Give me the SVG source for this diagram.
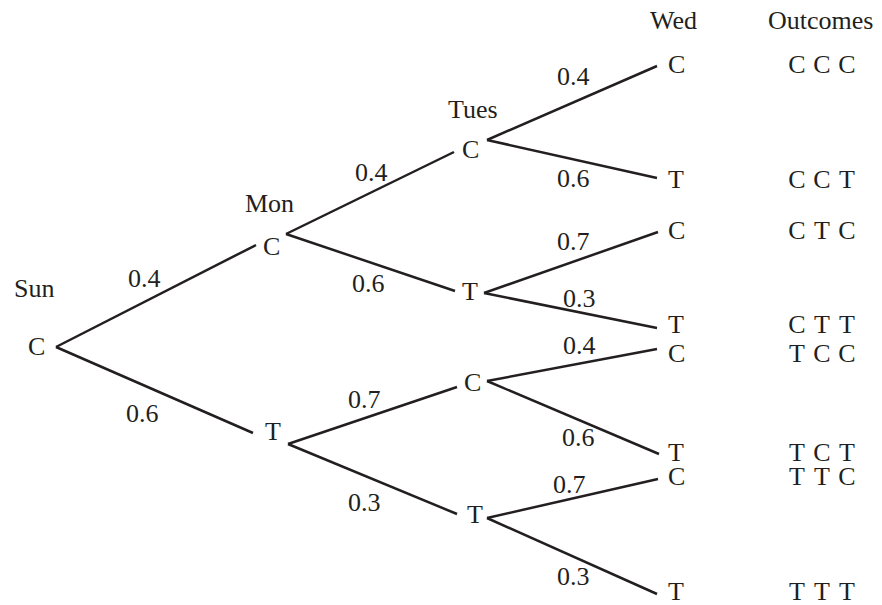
<svg xmlns="http://www.w3.org/2000/svg" width="882" height="605" viewBox="0 0 882 605">
<style>
text{font-family:"Times New Roman","Liberation Serif",Times,serif;font-size:26px;fill:#231f20}
.o{text-anchor:middle}
line{stroke:#231f20;stroke-width:2.5;stroke-linecap:butt}
</style>
<rect width="882" height="605" fill="#fff"/>
<g id="headers">
<text x="14" y="297">Sun</text>
<text x="245" y="212">Mon</text>
<text x="448" y="118">Tues</text>
<text x="650" y="29">Wed</text>
<text x="768" y="29">Outcomes</text>
</g>
<g id="connectors">
<line x1="56" y1="347" x2="256" y2="245"/>
<line x1="56" y1="347" x2="253" y2="433"/>
<line x1="286" y1="234" x2="454" y2="152"/>
<line x1="286" y1="234" x2="455" y2="291"/>
<line x1="288" y1="444" x2="457" y2="387"/>
<line x1="288" y1="444" x2="457" y2="514"/>
<line x1="487" y1="140" x2="657" y2="66"/>
<line x1="487" y1="140" x2="657" y2="178"/>
<line x1="484" y1="293" x2="658" y2="232"/>
<line x1="484" y1="293" x2="657" y2="328"/>
<line x1="487" y1="381" x2="657" y2="349"/>
<line x1="487" y1="381" x2="659" y2="454"/>
<line x1="487" y1="518" x2="658" y2="479"/>
<line x1="487" y1="518" x2="657" y2="594"/>
<g id="edge-labels">
<text x="128" y="287">0.4</text>
<text x="126" y="422">0.6</text>
<text x="355" y="181">0.4</text>
<text x="352" y="292">0.6</text>
<text x="348" y="408">0.7</text>
<text x="348" y="511">0.3</text>
<text x="557" y="85">0.4</text>
<text x="557" y="187">0.6</text>
<text x="557" y="250">0.7</text>
<text x="563" y="307">0.3</text>
<text x="563" y="354">0.4</text>
<text x="562" y="446">0.6</text>
<text x="553" y="493">0.7</text>
<text x="557" y="585">0.3</text>
</g>
</g>
<g id="sun-c"><text x="28" y="355">C</text></g>
<g id="mon-c"><text x="263" y="255">C</text></g>
<g id="mon-t"><text x="265" y="440">T</text></g>
<g id="tue-cc"><text x="462" y="158">C</text></g>
<g id="tue-ct"><text x="462" y="300">T</text></g>
<g id="tue-tc"><text x="464" y="391">C</text></g>
<g id="tue-tt"><text x="467" y="523">T</text></g>
<g id="wed-ccc"><text x="668" y="73">C</text></g>
<g id="wed-cct"><text x="668" y="188">T</text></g>
<g id="wed-ctc"><text x="668" y="239">C</text></g>
<g id="wed-ctt"><text x="668" y="333">T</text></g>
<g id="wed-tcc"><text x="668" y="362">C</text></g>
<g id="wed-tct"><text x="668" y="461">T</text></g>
<g id="wed-ttc"><text x="668" y="485">C</text></g>
<g id="wed-ttt"><text x="668" y="600">T</text></g>
<g id="outcomes">
<text class="o" x="797 822 847" y="73">CCC</text>
<text class="o" x="797 822 847" y="188">CCT</text>
<text class="o" x="797 822 847" y="239">CTC</text>
<text class="o" x="797 822 847" y="333">CTT</text>
<text class="o" x="797 822 847" y="362">TCC</text>
<text class="o" x="797 822 847" y="461">TCT</text>
<text class="o" x="797 822 847" y="485">TTC</text>
<text class="o" x="797 822 847" y="600">TTT</text>
</g>
</svg>
